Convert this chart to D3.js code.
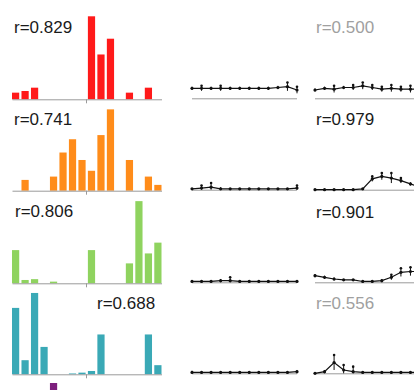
<!DOCTYPE html>
<html>
<head>
  <script src="https://d3js.org/d3.v7.min.js"></script>
  <style>
    body { margin: 0; background: #fff; font-family: "Liberation Sans", Arial, sans-serif; }
    .axis { stroke: #9a9a9a; stroke-width: 1; }
    .label { font-size: 17px; }
  </style>
</head>
<body>
  <svg width="414" height="390"></svg>
  <script>
    const width = 414, height = 390;

    // histogram bins (16 per panel), values in % of panel max
    const bins = d3.range(16);
    const histRed    = [8, 10, 14, 0, 0, 0, 0, 0, 100, 54, 73, 0, 8, 0, 14, 0];
    const histOrange = [0, 13, 0, 0, 17, 46, 62, 37, 24, 67, 98, 0, 37, 0, 17, 7];
    const histGreen  = [40, 4, 5, 0, 2, 0, 0, 0, 40, 0, 0, 0, 24, 99, 36, 49];
    const histTeal   = [80, 17, 98, 33, 0, 0, 1, 2, 4, 48, 0, 0, 0, 0, 48, 11];
    const histPurple = [0, 0, 0, 0, 100, 0, 0, 0, 0, 0, 0, 0, 0, 0, 0, 0];

    const histSeries = [histRed, histOrange, histGreen, histTeal, histPurple];
    const histColors = ["#ff1a1a", "#ff8c1a", "#8fd35f", "#3aa9b6", "#7d1f7d"];

    // correlation labels
    const leftLabels  = ["r=0.829", "r=0.741", "r=0.806", "r=0.688"];
    const rightLabels = ["r=0.500", "r=0.979", "r=0.901", "r=0.556"];
    const rightLabelDim = [true, false, false, true];

    // profile plots: 12 points each, mean and spread
    const points = d3.range(12);
    const midMean = [
      [12, 12, 12, 12, 12, 12, 12, 12, 12, 13, 14, 10],
      [1, 2, 3, 1, 1, 1, 1, 1, 1, 1, 1, 2],
      [1, 1, 1, 2, 2, 1, 1, 1, 1, 1, 1, 1],
      [1, 1, 1, 1, 1, 1, 1, 1, 1, 1, 1, 2]
    ];
    const midSpread = [
      [2, 3, 2, 3, 2, 2, 2, 2, 2, 2, 5, 4],
      [1, 3, 5, 2, 1, 1, 1, 1, 1, 1, 1, 3],
      [1, 1, 1, 2, 4, 1, 1, 1, 1, 1, 1, 1],
      [2, 1, 1, 1, 1, 1, 1, 1, 1, 1, 1, 2]
    ];
    const rightMean = [
      [10, 12, 11, 13, 13, 15, 13, 11, 12, 11, 11, 11],
      [0, 0, 0, 0, 0, 1, 13, 16, 14, 11, 7, 3],
      [8, 6, 4, 3, 3, 1, 1, 2, 6, 12, 13, 13],
      [0, 2, 13, 4, 2, 1, 1, 1, 1, 1, 1, 1]
    ];
    const rightSpread = [
      [2, 2, 4, 2, 3, 4, 3, 3, 4, 3, 4, 3],
      [1, 1, 1, 1, 1, 1, 3, 4, 6, 3, 2, 2],
      [2, 2, 2, 1, 1, 1, 1, 2, 3, 5, 5, 4],
      [1, 2, 9, 6, 6, 1, 1, 1, 1, 1, 1, 1]
    ];

    const rowBase = [99.3, 190.7, 283.3, 374.3, 466];

    const svg = d3.select("svg");

    const xHist = d3.scaleBand().domain(bins).range([12, 161.5]).paddingInner(0.24);
    const hScale = d3.scaleLinear().domain([0, 100]).range([0, 83]);
    const xMid = d3.scalePoint().domain(points).range([192, 297]);
    const xRight = d3.scalePoint().domain(points).range([315, 420]);

    histSeries.forEach((vals, r) => {
      const g = svg.append("g");
      const base = rowBase[r];
      g.selectAll("rect")
        .data(vals)
        .enter().append("rect")
        .attr("x", (d, i) => xHist(i))
        .attr("width", xHist.bandwidth())
        .attr("y", d => base - hScale(d))
        .attr("height", d => hScale(d))
        .attr("fill", histColors[r]);

      if (r < 4) {
        g.append("line").attr("class", "axis")
          .attr("x1", 12.5).attr("x2", 162).attr("y1", base + 0.5).attr("y2", base + 0.5);
        g.append("line").attr("class", "axis")
          .attr("x1", 86.5).attr("x2", 86.5).attr("y1", base).attr("y2", base + 4);
      }
    });

    function profile(xs, mean, spread, base) {
      const y = v => base - 1 - hScale(v);
      const g = svg.append("g");
      g.append("line").attr("class", "axis")
        .attr("x1", xs.range()[0]).attr("x2", xs.range()[1])
        .attr("y1", y(0) + 0.5).attr("y2", y(0) + 0.5);
      g.selectAll(".err")
        .data(points)
        .enter().append("line")
        .attr("x1", i => xs(i)).attr("x2", i => xs(i))
        .attr("y1", i => y(mean[i] + spread[i])).attr("y2", i => y(Math.max(0, mean[i] - spread[i])))
        .attr("stroke", "#111").attr("stroke-width", 1);
      g.append("path")
        .datum(points)
        .attr("fill", "none").attr("stroke", "#111").attr("stroke-width", 1.2)
        .attr("d", d3.line().x(i => xs(i)).y(i => y(mean[i])));
      g.selectAll(".pt")
        .data(points)
        .enter().append("circle")
        .attr("cx", i => xs(i)).attr("cy", i => y(mean[i]))
        .attr("r", 1.6).attr("fill", "#111");
      g.selectAll(".top")
        .data(points.filter(i => spread[i] >= 3))
        .enter().append("circle")
        .attr("cx", i => xs(i)).attr("cy", i => y(mean[i] + spread[i]))
        .attr("r", 1.3).attr("fill", "#111");
    }

    for (let r = 0; r < 4; r++) {
      profile(xMid, midMean[r], midSpread[r], rowBase[r]);
      profile(xRight, rightMean[r], rightSpread[r], rowBase[r]);
    }

    // labels
    const leftPos = [[14, 33.3], [14, 125], [15, 216.7], [97, 309]];
    leftLabels.forEach((t, i) => {
      svg.append("text").attr("class", "label")
        .attr("x", leftPos[i][0]).attr("y", leftPos[i][1])
        .attr("fill", "#1a1a1a").text(t);
    });
    const rightY = [33.3, 125, 218, 309];
    rightLabels.forEach((t, i) => {
      svg.append("text").attr("class", "label")
        .attr("x", 316).attr("y", rightY[i])
        .attr("fill", rightLabelDim[i] ? "#a0a0a0" : "#1a1a1a").text(t);
    });
  </script>
</body>
</html>
